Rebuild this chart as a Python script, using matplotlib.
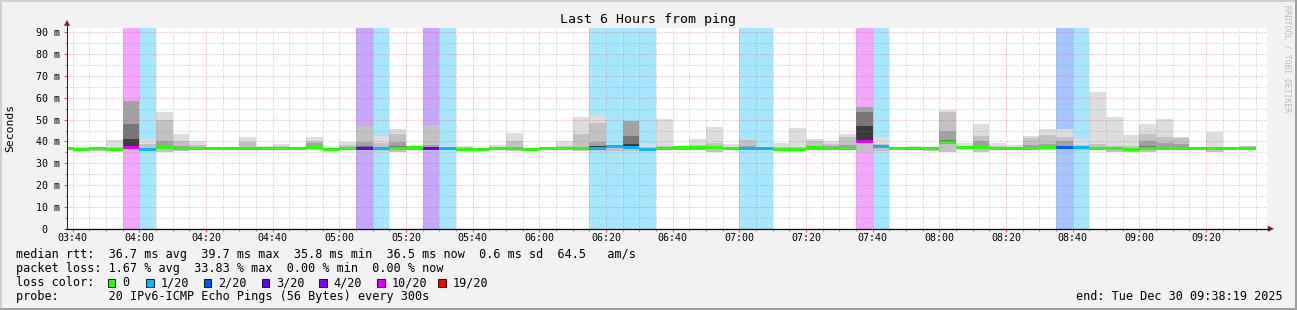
import matplotlib
matplotlib.use("Agg")
import matplotlib.pyplot as plt
from matplotlib.patches import Rectangle, Polygon
from matplotlib.lines import Line2D
from matplotlib.colors import to_rgb

# ------------------------------------------------------------------ data
title = "Last 6 Hours from ping"
view_start = "03:38:19"
view_end = "09:38:19"
first_bin = "03:35"
bin_minutes = 5

median_ms = [36.8, 36.1, 36.7, 36.3, 37.3, 36.4, 37.3, 36.9, 36.8, 36.8,
             36.8, 36.7, 36.7, 36.7, 36.7, 37.2, 36.3, 36.7, 36.9, 36.8,
             36.9, 37.0, 36.9, 36.6, 36.4, 36.3, 36.9, 36.8, 36.4, 36.7,
             36.9, 36.8, 36.7, 37.6, 37.3, 36.1, 36.9, 37.0, 37.0, 37.1,
             36.9, 36.9, 36.6, 36.4, 36.5, 37.0, 36.9, 36.9, 40.0, 37.6,
             36.9, 36.8, 36.7, 39.5, 37.2, 37.3, 36.8, 36.7, 36.7, 37.3,
             37.3, 37.2, 36.9, 36.9, 36.1, 36.7, 36.9, 36.9, 36.7, 36.7,
             36.8, 36.9]

smoke_lo_ms = [36.2, 35.6, 35.5, 35.7, 35.7, 35.8, 35.3, 35.6, 36.0, 36.3,
               36.3, 36.0, 36.0, 36.0, 36.3, 36.0, 35.8, 36.2, 35.8, 35.8,
               35.3, 36.3, 35.8, 36.0, 35.8, 35.8, 36.0, 35.8, 36.0, 36.0,
               36.0, 35.5, 35.5, 35.5, 35.8, 35.6, 36.0, 36.5, 36.4, 35.3,
               36.3, 36.0, 36.0, 36.0, 36.0, 36.0, 36.0, 36.2, 35.5, 35.5,
               36.5, 36.3, 35.5, 35.3, 36.5, 35.3, 36.3, 36.2, 36.0, 36.0,
               36.0, 36.0, 36.0, 35.3, 35.3, 35.3, 36.0, 36.3, 36.3, 35.3,
               36.4, 36.4]

smoke_l1_ms = [37.3, 37.6, 37.6, 40.7, 58.5, 40.6, 53.5, 43.4, 40.2, 37.2,
               37.0, 42.2, 38.0, 38.8, 37.2, 42.2, 37.0, 39.9, 47.2, 42.6,
               45.7, 38.0, 47.7, 38.0, 38.0, 37.0, 38.3, 44.0, 37.0, 37.2,
               40.2, 51.2, 51.7, 37.8, 49.2, 38.8, 50.1, 37.2, 41.1, 46.8,
               38.8, 40.6, 38.0, 39.4, 46.1, 41.1, 40.3, 43.4, 55.9, 42.2,
               37.2, 38.0, 37.0, 54.5, 39.4, 48.0, 39.4, 38.3, 42.6, 45.7,
               45.7, 41.0, 62.8, 51.0, 42.9, 48.0, 50.3, 42.2, 37.1, 44.5,
               37.1, 38.0]

smoke_l2_ms = [37.0, 36.8, 37.2, 37.6, 58.5, 38.6, 49.8, 40.3, 38.5, 37.0,
               36.9, 39.6, 37.5, 38.0, 37.0, 40.3, 36.8, 38.5, 47.2, 39.1,
               43.4, 37.5, 47.7, 37.3, 37.3, 36.8, 37.6, 40.3, 36.7, 37.0,
               38.0, 43.4, 48.6, 37.6, 49.2, 37.5, 38.0, 37.1, 38.5, 39.4,
               37.6, 40.6, 37.4, 37.5, 37.5, 40.0, 39.0, 42.0, 55.9, 39.0,
               37.0, 37.3, 36.8, 53.5, 38.0, 42.5, 38.0, 37.5, 41.5, 43.0,
               41.9, 38.5, 39.0, 38.0, 38.0, 43.4, 41.9, 41.5, 37.0, 37.5,
               37.0, 37.8]

smoke_l3_ms = [36.8, 36.3, 36.9, 36.8, 58.5, 37.2, 40.3, 37.8, 37.5, 36.9,
               36.8, 37.6, 37.0, 37.3, 36.8, 39.5, 36.5, 37.2, 39.9, 37.6,
               39.9, 37.1, 38.5, 36.8, 36.8, 36.5, 37.1, 37.6, 36.5, 36.8,
               37.2, 37.6, 39.9, 37.6, 49.2, 36.8, 37.3, 37.0, 37.4, 38.0,
               37.1, 38.0, 36.9, 36.8, 36.9, 38.0, 37.8, 38.5, 55.9, 37.8,
               36.9, 36.9, 36.7, 44.6, 37.4, 40.0, 37.2, 37.0, 38.5, 39.0,
               40.0, 37.5, 37.5, 37.2, 37.0, 40.0, 39.5, 39.0, 36.8, 37.0,
               36.9, 37.6]

smoke_l4_ms = [36.8, 36.1, 36.7, 36.3, 48.0, 36.6, 38.0, 37.0, 36.9, 36.8,
               36.8, 36.9, 36.8, 36.8, 36.7, 37.5, 36.3, 36.8, 38.0, 37.0,
               37.8, 37.0, 37.5, 36.6, 36.5, 36.3, 36.9, 37.0, 36.4, 36.7,
               36.9, 37.0, 38.0, 37.6, 42.3, 36.3, 37.0, 37.0, 37.1, 37.3,
               36.9, 37.2, 36.7, 36.5, 36.6, 37.2, 37.0, 37.2, 53.3, 37.6,
               36.9, 36.8, 36.7, 40.5, 37.2, 38.0, 36.9, 36.8, 37.0, 37.6,
               38.0, 37.2, 37.0, 36.9, 36.3, 38.0, 37.5, 37.5, 36.7, 36.8,
               36.8, 37.6]

smoke_l5_ms = [36.8, 36.1, 36.7, 36.3, 41.0, 36.4, 37.3, 36.9, 36.8, 36.8,
               36.8, 36.7, 36.7, 36.7, 36.7, 37.2, 36.3, 36.7, 36.9, 36.8,
               36.9, 37.0, 36.9, 36.6, 36.4, 36.3, 36.9, 36.8, 36.4, 36.7,
               36.9, 36.8, 37.8, 37.6, 38.8, 36.1, 36.9, 37.0, 37.0, 37.1,
               36.9, 36.9, 36.6, 36.4, 36.5, 37.0, 36.9, 36.9, 47.0, 37.6,
               36.9, 36.8, 36.7, 39.5, 37.2, 37.3, 36.8, 36.7, 36.7, 37.3,
               37.3, 37.2, 36.9, 36.9, 36.1, 36.7, 36.9, 36.9, 36.7, 36.7,
               36.8, 37.6]

loss_pings = [0, 0, 0, 0, 10, 1, 0, 0, 0, 0,
              0, 0, 0, 0, 0, 0, 0, 0, 3, 1,
              0, 0, 3, 1, 0, 0, 0, 0, 0, 0,
              0, 0, 1, 1, 1, 1, 0, 0, 0, 0,
              0, 1, 1, 0, 0, 0, 0, 0, 10, 1,
              0, 0, 0, 0, 0, 0, 0, 0, 0, 0,
              2, 1, 0, 0, 0, 0, 0, 0, 0, 0,
              0, 0]

loss_thresholds = [0, 1, 2, 3, 4, 10, 19]
loss_labels = ["0", "1/20", "2/20", "3/20", "4/20", "10/20", "19/20"]
loss_colors = ["#26ff00", "#00b8ff", "#0059ff", "#5e00ff", "#7e00ff", "#dd00ff", "#ff0000"]

x_tick_labels = ["03:40", "04:00", "04:20", "04:40", "05:00", "05:20", "05:40",
                 "06:00", "06:20", "06:40", "07:00", "07:20", "07:40", "08:00",
                 "08:20", "08:40", "09:00", "09:20"]
y_tick_values = [0, 10, 20, 30, 40, 50, 60, 70, 80, 90]
y_tick_labels = ["0  ", "10 m", "20 m", "30 m", "40 m", "50 m", "60 m", "70 m", "80 m", "90 m"]
y_top = 92

legend_rtt = "median rtt:  36.7 ms avg  39.7 ms max  35.8 ms min  36.5 ms now  0.6 ms sd  64.5   am/s"
legend_loss = "packet loss: 1.67 % avg  33.83 % max  0.00 % min  0.00 % now"
legend_color = "loss color:"
legend_probe = "probe:       20 IPv6-ICMP Echo Pings (56 Bytes) every 300s"
legend_end = "end: Tue Dec 30 09:38:19 2025"
watermark = "RRDTOOL / TOBI OETIKER"
y_label = "Seconds"

# ------------------------------------------------------------------ layout
W, H, DPI = 1297, 310, 100
MONO = "DejaVu Sans Mono"
BG = "#F2F2F2"
GRID_MINOR = (0.56, 0.56, 0.56, 0.55)
GRID_MAJOR = (0.87, 0.31, 0.31, 0.55)
ARROW = (0.5, 0.12, 0.12)
AXIS = (0.12, 0.12, 0.12)

fig = plt.figure(figsize=(W / DPI, H / DPI), dpi=DPI)
fig.patch.set_facecolor(BG)


def P(x, y):
    return (x / W, 1 - y / H)


PX_L, PX_R, PX_B, PX_T = 67, 1267, 228.7, 28.0
ax = fig.add_axes([PX_L / W, 1 - PX_B / H, (PX_R - PX_L) / W, (PX_B - PX_T) / H])
ax.set_facecolor("white")
for s in ax.spines.values():
    s.set_visible(False)


def hm(s):
    parts = [int(p) for p in s.split(":")]
    v = parts[0] * 60 + parts[1]
    if len(parts) > 2:
        v += parts[2] / 60
    return v


t0, t1 = hm(view_start), hm(view_end)
ax.set_xlim(t0, t1)
ax.set_ylim(0, y_top)

n = len(median_ms)
starts = [hm(first_bin) + bin_minutes * i for i in range(n)]


def level(l):
    idx = 0
    for k, th in enumerate(loss_thresholds):
        if l >= th:
            idx = k
    return idx


def tint(c, a=0.35):
    r, g, b = to_rgb(c)
    return (1 - a + a * r, 1 - a + a * g, 1 - a + a * b)


# loss background bands
band_x = [s for s, l in zip(starts, loss_pings) if l > 0]
band_c = [tint(loss_colors[level(l)]) for l in loss_pings if l > 0]
ax.bar(band_x, y_top, width=bin_minutes, bottom=0, align="edge", color=band_c,
       linewidth=0, zorder=1, antialiased=False)

# smoke
layers = [(smoke_l1_ms, "#DDDDDD", smoke_lo_ms),
          (smoke_l2_ms, "#C2C2C2", smoke_lo_ms),
          (smoke_l3_ms, "#A2A2A2", median_ms),
          (smoke_l4_ms, "#767676", median_ms),
          (smoke_l5_ms, "#3A3A3A", median_ms)]
for top, col, bot in layers:
    ax.bar(starts, [t - b for t, b in zip(top, bot)], bottom=bot, width=bin_minutes,
           align="edge", color=col, linewidth=0, zorder=2, antialiased=False)

# median
ax.bar(starts, 1.4, bottom=[m - 0.7 for m in median_ms], width=bin_minutes, align="edge",
       color=[loss_colors[level(l)] for l in loss_pings], linewidth=0, zorder=3,
       antialiased=False)

# grid on top
for v in range(5, y_top, 5):
    c = GRID_MAJOR if v % 10 == 0 else GRID_MINOR
    ax.axhline(v, color=c, lw=0.72, ls=(0, (1, 2)), zorder=5)
grid_t = [t for t in range(int(t0) // 5 * 5, int(t1) + 1, 5) if t0 < t < t1]
for t in grid_t:
    c = GRID_MAJOR if t % 20 == 0 else GRID_MINOR
    ax.axvline(t, color=c, lw=0.72, ls=(0, (1, 2)), zorder=5)

# ticks
major_x = [hm(s) for s in x_tick_labels]
ax.set_xticks(major_x, x_tick_labels)
ax.set_xticks([t for t in grid_t if t % 20 != 0], minor=True)
ax.set_yticks(y_tick_values, y_tick_labels)
ax.set_yticks([v for v in range(5, y_top, 10)], minor=True)
ax.tick_params(axis="x", which="major", length=2.2, width=0.72, color=GRID_MAJOR[:3],
               pad=1.0, labelsize=7.2)
ax.tick_params(axis="x", which="minor", length=1.5, width=0.72, color=GRID_MINOR[:3])
ax.tick_params(axis="y", which="major", length=2.2, width=0.72, color=GRID_MAJOR[:3],
               pad=3.0, labelsize=7.2)
ax.tick_params(axis="y", which="minor", length=1.5, width=0.72, color=GRID_MINOR[:3])
for lab in ax.get_xticklabels() + ax.get_yticklabels():
    lab.set_fontfamily(MONO)

# axes lines and arrows
fig.add_artist(Line2D([P(67, 0)[0], P(67, 0)[0]], [P(0, 229)[1], P(0, 25)[1]],
                      color=AXIS, lw=0.72, transform=fig.transFigure))
fig.add_artist(Line2D([P(66, 0)[0], P(1269, 0)[0]], [P(0, 228.7)[1], P(0, 228.7)[1]],
                      color="black", lw=0.9, transform=fig.transFigure))
fig.add_artist(Polygon([P(64.3, 25.5), P(69.7, 25.5), P(67, 20.5)], closed=True,
                       facecolor=ARROW, edgecolor=ARROW, lw=0.3, transform=fig.transFigure))
fig.add_artist(Polygon([P(1268, 226), P(1268, 231.4), P(1273.5, 228.7)], closed=True,
                       facecolor=ARROW, edgecolor=ARROW, lw=0.3, transform=fig.transFigure))

# texts
fig.text(*P(648.5, 19.5), title, ha="center", va="center", fontsize=9.5, family=MONO)
fig.text(*P(10.5, 128), y_label, ha="center", va="center", rotation=90, fontsize=8.2, family=MONO)
fig.text(*P(1287.5, 5), watermark, ha="center", va="top", rotation=270, fontsize=5.8,
         family=MONO, color="#BBBBBB")

LEG = 8.5
fig.text(*P(15.8, 254.3), legend_rtt, ha="left", va="center", fontsize=LEG, family=MONO)
fig.text(*P(15.8, 268.5), legend_loss, ha="left", va="center", fontsize=LEG, family=MONO)
fig.text(*P(15.8, 282.5), legend_color, ha="left", va="center", fontsize=LEG, family=MONO)
fig.text(*P(15.8, 296.8), legend_probe, ha="left", va="center", fontsize=LEG, family=MONO)
fig.text(*P(1283, 296.8), legend_end, ha="right", va="center", fontsize=LEG, family=MONO)

sw_x = [107.5, 146, 203.5, 261.5, 319, 377, 438]
for sx, col, lab in zip(sw_x, loss_colors, loss_labels):
    fig.add_artist(Rectangle(P(sx, 286.5), 7.5 / W, 8 / H, facecolor=col, edgecolor="black",
                             lw=0.6, transform=fig.transFigure))
    fig.text(*P(sx + 14.5, 282.5), lab, ha="left", va="center", fontsize=LEG, family=MONO)

# 3d frame
fig.add_artist(Rectangle((0, 0), 1, 2 / H, facecolor="#9E9E9E", lw=0, transform=fig.transFigure))
fig.add_artist(Rectangle((1 - 2 / W, 0), 2 / W, 1, facecolor="#9E9E9E", lw=0, transform=fig.transFigure))
fig.add_artist(Rectangle((0, 1 - 2 / H), 1 - 2 / W, 2 / H, facecolor="#CFCFCF", lw=0, transform=fig.transFigure))
fig.add_artist(Rectangle((0, 2 / H), 2 / W, 1 - 4 / H, facecolor="#CFCFCF", lw=0, transform=fig.transFigure))

fig.savefig("out.png", dpi=DPI, facecolor=fig.get_facecolor())
